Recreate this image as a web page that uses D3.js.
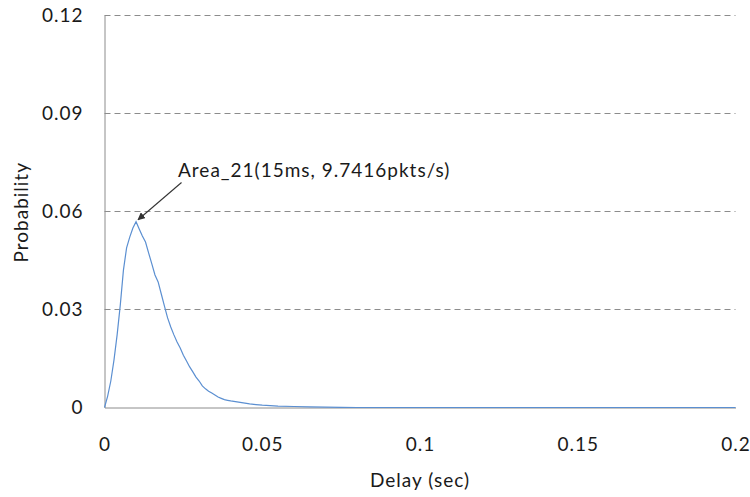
<!DOCTYPE html>
<html>
<head>
<meta charset="utf-8">
<script src="https://cdn.jsdelivr.net/npm/d3@7"></script>
<style>
  html, body { margin: 0; padding: 0; background: #fff; }
  svg text { font-family: Lato, "Open Sans", sans-serif; fill: #1a1a1a; letter-spacing: 1px; }
</style>
</head>
<body>
<svg id="chart" width="750" height="497"></svg>
<script>
// Delay distribution (seconds) and its probability
const delay = [0, 0.001, 0.002, 0.003, 0.004, 0.005, 0.006, 0.007, 0.008, 0.009,
  0.010, 0.011, 0.012, 0.013, 0.014, 0.015, 0.016, 0.017, 0.018, 0.019,
  0.020, 0.021, 0.022, 0.023, 0.024, 0.025, 0.026, 0.027, 0.028, 0.029,
  0.030, 0.031, 0.032, 0.033, 0.034, 0.035, 0.036, 0.037, 0.038, 0.039,
  0.040, 0.042, 0.044, 0.046, 0.048, 0.050, 0.055, 0.060, 0.065, 0.070,
  0.075, 0.080, 0.100, 0.150, 0.200];
const probability = [0, 0.0035, 0.0081, 0.0145, 0.0222, 0.0313, 0.0420, 0.0488, 0.0521, 0.0549,
  0.0568, 0.0546, 0.0524, 0.0506, 0.0472, 0.0439, 0.0405, 0.0384, 0.0347, 0.0310,
  0.0274, 0.0246, 0.0222, 0.0200, 0.0182, 0.0160, 0.0142, 0.0124, 0.0109, 0.0093,
  0.0081, 0.0066, 0.0057, 0.0050, 0.0044, 0.0038, 0.0032, 0.0028, 0.0024, 0.0022,
  0.0020, 0.0017, 0.0014, 0.0011, 0.0009, 0.0007, 0.0004, 0.0003, 0.0002, 0.0001,
  0.00005, 0, 0, 0, 0];
const xTicks = [0, 0.05, 0.1, 0.15, 0.2];
const yTicks = [0, 0.03, 0.06, 0.09, 0.12];
const xTitle = "Delay (sec)";
const yTitle = "Probability";
const note = "Area_21(15ms, 9.7416pkts/s)";
const notePoint = [0.010, 0.0568];

const svg = d3.select("#chart");
const m = { left: 104.5, right: 735.5, top: 15, bottom: 407.5 };
const fs = 19;

const x = d3.scaleLinear().domain([0, 0.2]).range([m.left, m.right]);
const y = d3.scaleLinear().domain([0, 0.12]).range([m.bottom, m.top]);

// horizontal dashed gridlines
svg.append("g")
  .selectAll("line")
  .data(yTicks.filter(d => d > 0))
  .join("line")
  .attr("x1", m.left).attr("x2", m.right)
  .attr("y1", d => Math.round(y(d)) + 0.5).attr("y2", d => Math.round(y(d)) + 0.5)
  .attr("stroke", "#8c8c8c").attr("stroke-width", 1)
  .attr("stroke-dasharray", "6,4");

// y axis
const yAxis = svg.append("g")
  .attr("transform", `translate(${m.left},0)`)
  .call(d3.axisLeft(y).tickValues(yTicks).tickSize(0).tickPadding(21)
    .tickFormat(d => d === 0 ? "0" : d3.format(".2f")(d)));
yAxis.select(".domain").attr("stroke", "#8c8c8c");
yAxis.selectAll("text").attr("font-size", fs).style("font-family", "Lato, sans-serif").attr("fill", "#1a1a1a");

// x axis
const xAxis = svg.append("g")
  .attr("transform", `translate(0,${m.bottom})`)
  .call(d3.axisBottom(x).tickValues(xTicks).tickSize(0).tickPadding(30)
    .tickFormat(d => d === 0 ? "0" : String(+d.toFixed(2))));
xAxis.select(".domain").attr("stroke", "#8c8c8c");
xAxis.selectAll("text").attr("font-size", fs).style("font-family", "Lato, sans-serif").attr("fill", "#1a1a1a");

// axis titles
svg.append("text")
  .attr("x", (m.left + m.right) / 2).attr("y", 487)
  .attr("text-anchor", "middle").attr("font-size", fs)
  .text(xTitle);
svg.append("text")
  .attr("transform", `translate(28,${(m.top + m.bottom) / 2 + 1}) rotate(-90)`)
  .attr("text-anchor", "middle").attr("font-size", fs)
  .text(yTitle);

// distribution curve
const pts = delay.map((d, i) => [d, probability[i]]);
svg.append("path")
  .datum(pts)
  .attr("fill", "none")
  .attr("stroke", "#5b8fd1")
  .attr("stroke-width", 1.2)
  .attr("d", d3.line().x(d => x(d[0])).y(d => y(d[1])));

// annotation with arrow
const defs = svg.append("defs");
defs.append("marker")
  .attr("id", "arrowhead")
  .attr("viewBox", "0 0 10 10")
  .attr("refX", 9).attr("refY", 5)
  .attr("markerWidth", 7).attr("markerHeight", 7)
  .attr("orient", "auto")
  .append("path")
  .attr("d", "M0,0 L10,5 L0,10 Z")
  .attr("fill", "#333");

const tip = [x(notePoint[0]) + 2, y(notePoint[1]) - 2];
svg.append("line")
  .attr("x1", 181.5).attr("y1", 182.5)
  .attr("x2", tip[0]).attr("y2", tip[1])
  .attr("stroke", "#333").attr("stroke-width", 1.1)
  .attr("marker-end", "url(#arrowhead)");

svg.append("text")
  .attr("x", 178).attr("y", 177)
  .attr("font-size", fs)
  .text(note);
</script>
</body>
</html>
